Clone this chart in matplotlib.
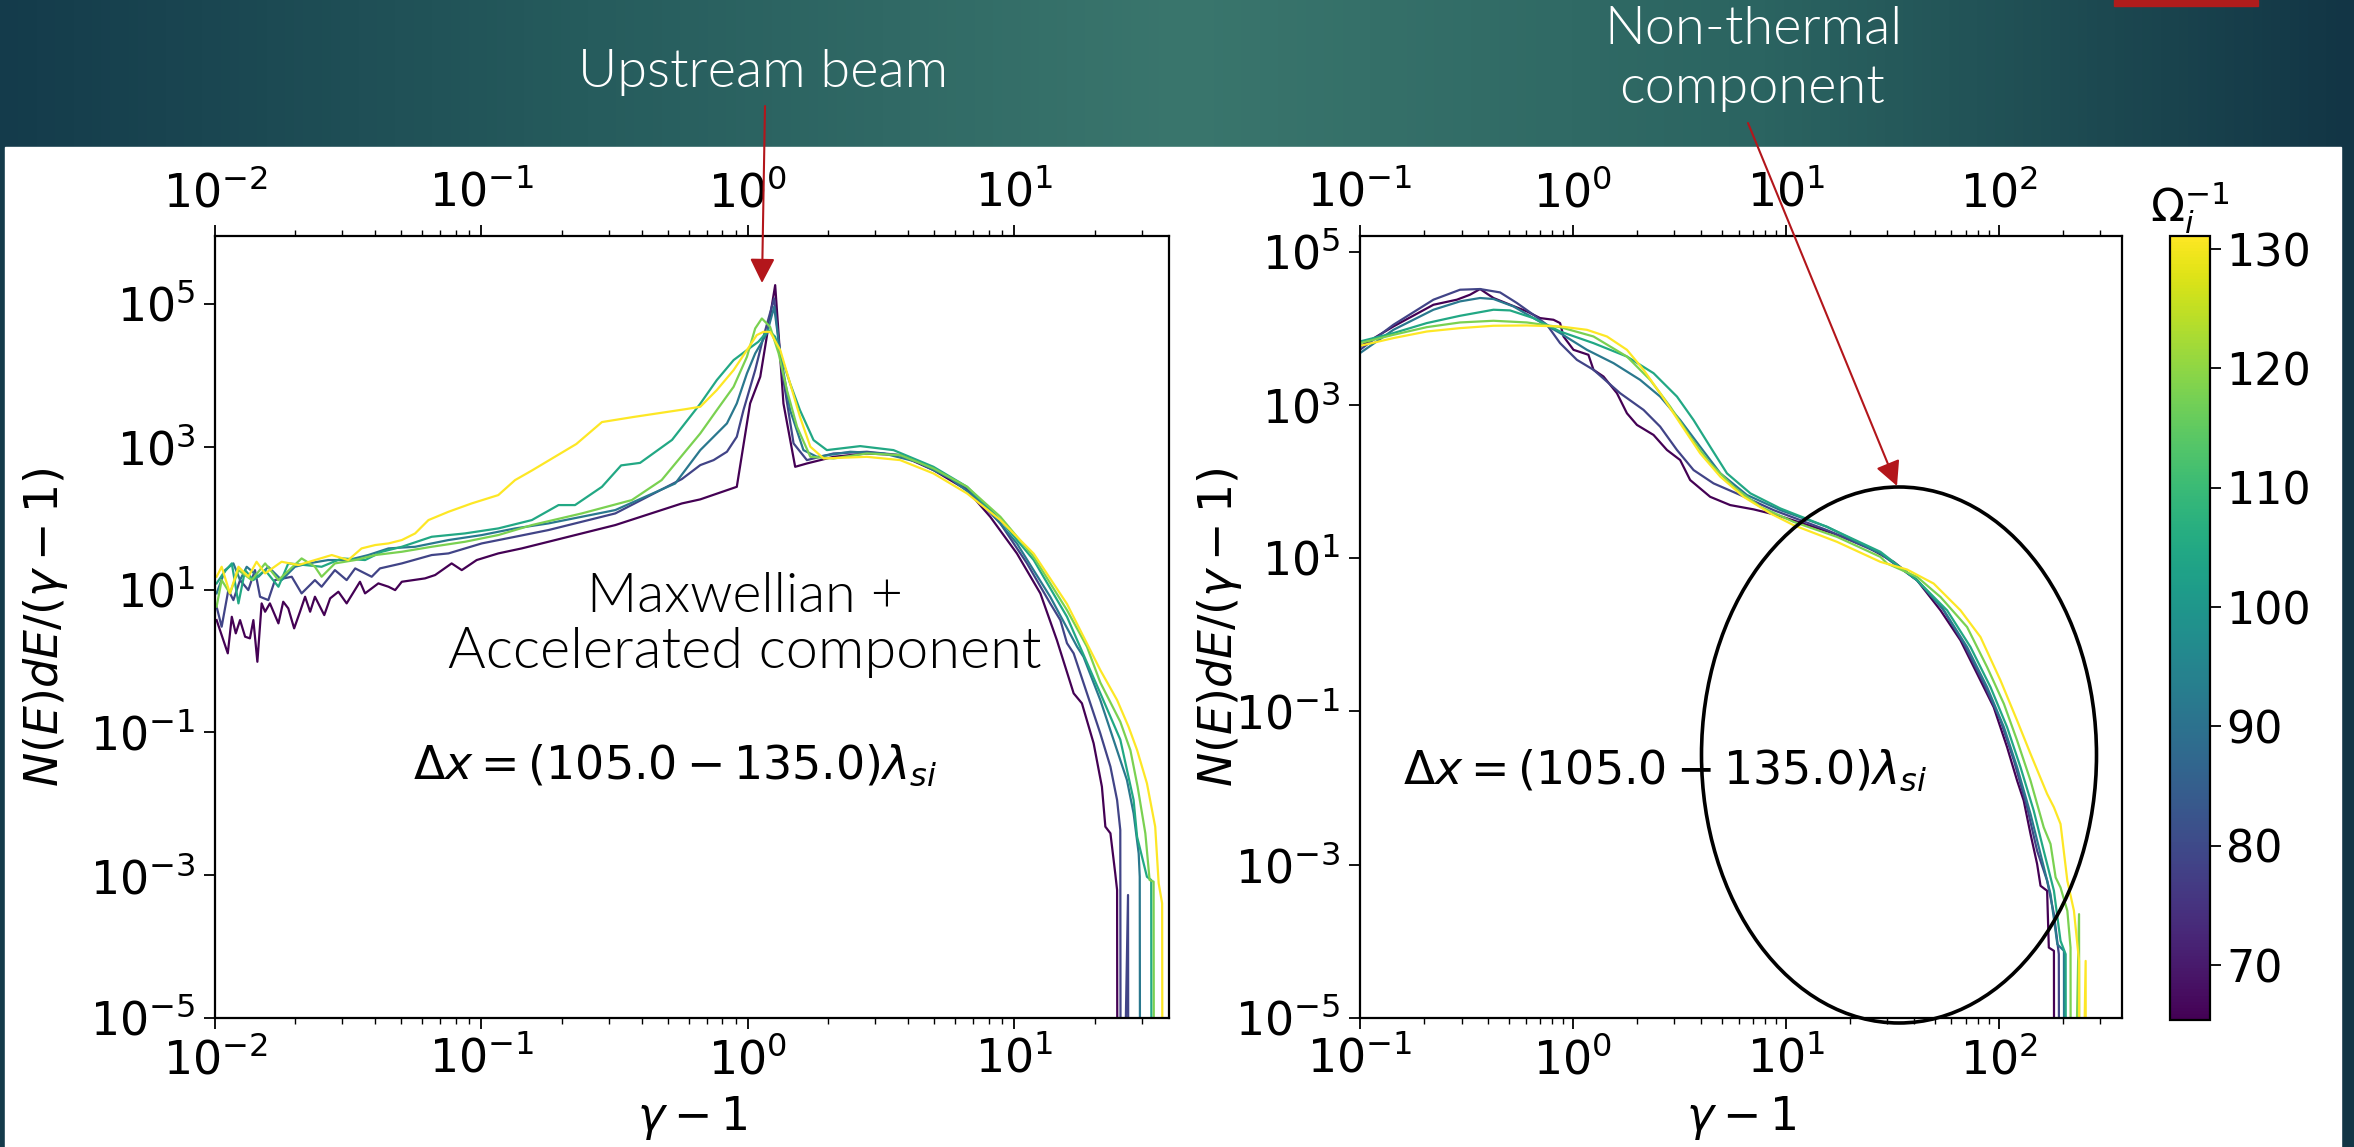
import numpy as np
import matplotlib
matplotlib.use("Agg")
import matplotlib.pyplot as plt
from matplotlib.colors import Normalize, LinearSegmentedColormap
from matplotlib.patches import Ellipse, Rectangle, FancyArrowPatch
import matplotlib.ticker as mticker

W, H = 2354, 1147

# snapshot times (1/Omega_i) of the six spectra -> colour
times = [65.5, 78.6, 91.7, 104.8, 117.9, 131.0]
cbar_range = (65.4, 131.1)
cbar_ticks = [70, 80, 90, 100, 110, 120, 130]
y_ticks = [1e-5, 1e-3, 1e-1, 1e1, 1e3, 1e5]

# spectra as (log10(gamma-1), log10(N dE/(gamma-1)))
# -9 marks where a spectrum drops to zero (off the bottom of the plot)
left_0 = [(-1.994, 0.574), (-1.952, 0.108), (-1.937, 0.62), (-1.922, 0.388), (-1.906, 0.574),
          (-1.887, 0.341), (-1.869, 0.318), (-1.856, 0.574), (-1.841, -0.01), (-1.825, 0.808),
          (-1.812, 0.691), (-1.794, 0.808), (-1.762, 0.528), (-1.744, 0.831), (-1.725, 0.738),
          (-1.703, 0.458), (-1.681, 0.691), (-1.662, 0.901), (-1.643, 0.691), (-1.625, 0.901),
          (-1.59, 0.644), (-1.568, 0.878), (-1.537, 0.971), (-1.506, 0.808), (-1.456, 1.111),
          (-1.437, 0.948), (-1.387, 1.088), (-1.349, 1.041), (-1.324, 0.994), (-1.299, 1.111),
          (-1.212, 1.158), (-1.174, 1.205), (-1.112, 1.368), (-1.074, 1.274), (-1.018, 1.415),
          (-0.937, 1.508), (-0.849, 1.578), (-0.749, 1.671), (-0.498, 1.905), (-0.248, 2.208),
          (-0.179, 2.265), (-0.042, 2.441), (0.008, 3.609), (0.046, 3.982), (0.102, 5.266),
          (0.133, 3.609), (0.177, 2.721), (0.221, 2.768), (0.321, 2.861), (0.446, 2.908),
          (0.571, 2.885), (0.696, 2.675), (0.822, 2.395), (0.909, 2.021), (1.009, 1.508),
          (1.097, 0.948), (1.159, 0.294), (1.222, -0.452), (1.253, -0.592), (1.297, -1.153),
          (1.328, -1.76), (1.341, -2.32), (1.36, -2.413), (1.378, -2.973), (1.385, -3.207),
          (1.387, -9)]
left_1 = [(-1.994, 0.761), (-1.975, 0.481), (-1.95, 0.994), (-1.931, 0.854), (-1.906, 1.134),
          (-1.875, 0.994), (-1.85, 1.274), (-1.831, 0.901), (-1.8, 0.854), (-1.775, 1.134),
          (-1.712, 1.181), (-1.675, 0.948), (-1.625, 1.134), (-1.6, 1.041), (-1.55, 1.274),
          (-1.506, 1.134), (-1.474, 1.298), (-1.412, 1.181), (-1.381, 1.298), (-1.299, 1.368),
          (-1.187, 1.485), (-1.124, 1.508), (-0.999, 1.648), (-0.874, 1.741), (-0.749, 1.835),
          (-0.498, 2.068), (-0.248, 2.55), (-0.179, 2.745), (-0.129, 2.815), (-0.079, 2.932),
          (-0.042, 3.142), (-0.017, 3.515), (0.027, 4.076), (0.058, 4.542), (0.098, 5.08),
          (0.127, 4.076), (0.171, 3.049), (0.221, 2.815), (0.321, 2.908), (0.446, 2.932),
          (0.571, 2.885), (0.696, 2.698), (0.822, 2.418), (0.947, 1.928), (1.047, 1.368),
          (1.134, 0.808), (1.172, 0.574), (1.197, 0.25), (1.222, 0.108), (1.272, -0.452),
          (1.322, -1.013), (1.36, -1.48), (1.385, -1.947), (1.397, -2.367), (1.399, -9),
          (1.426, -3.277), (1.428, -9)]
left_2 = [(-1.994, 0.948), (-1.962, 1.274), (-1.931, 1.368), (-1.906, 1.134), (-1.881, 1.321),
          (-1.837, 1.181), (-1.8, 1.321), (-1.75, 1.134), (-1.7, 1.321), (-1.65, 1.368),
          (-1.575, 1.415), (-1.5, 1.415), (-1.425, 1.485), (-1.349, 1.578), (-1.249, 1.601),
          (-1.124, 1.695), (-0.999, 1.765), (-0.874, 1.858), (-0.749, 1.928), (-0.498, 2.115),
          (-0.273, 2.488), (-0.179, 2.955), (-0.129, 3.142), (-0.079, 3.329), (-0.042, 3.609),
          (-0.004, 4.029), (0.027, 4.309), (0.071, 4.589), (0.098, 4.962), (0.121, 4.309),
          (0.158, 3.515), (0.208, 2.955), (0.259, 2.861), (0.384, 2.932), (0.509, 2.908),
          (0.634, 2.791), (0.759, 2.558), (0.884, 2.208), (1.009, 1.648), (1.134, 0.901),
          (1.235, 0.2), (1.259, 0.06), (1.322, -0.546), (1.372, -1.106), (1.422, -1.667),
          (1.447, -2.134), (1.466, -2.695), (1.47, -3.022), (1.472, -9)]
left_3 = [(-1.994, 1.088), (-1.969, 1.228), (-1.937, 1.368), (-1.912, 0.808), (-1.887, 1.274),
          (-1.856, 1.134), (-1.812, 1.274), (-1.762, 1.041), (-1.725, 1.368), (-1.662, 1.345),
          (-1.6, 1.321), (-1.524, 1.438), (-1.437, 1.415), (-1.374, 1.531), (-1.299, 1.601),
          (-1.187, 1.741), (-1.062, 1.788), (-0.937, 1.858), (-0.811, 1.975), (-0.711, 2.185),
          (-0.649, 2.185), (-0.548, 2.441), (-0.476, 2.741), (-0.405, 2.776), (-0.285, 3.098),
          (-0.18, 3.6), (-0.117, 3.936), (-0.054, 4.216), (-0.004, 4.356), (0.039, 4.473),
          (0.077, 4.636), (0.102, 4.542), (0.121, 4.309), (0.158, 3.889), (0.195, 3.515),
          (0.246, 3.095), (0.296, 2.955), (0.421, 3.011), (0.546, 2.955), (0.696, 2.721),
          (0.822, 2.441), (0.947, 1.975), (1.072, 1.415), (1.197, 0.62), (1.322, -0.45),
          (1.397, -1.1), (1.447, -1.947), (1.46, -2.461), (1.497, -3.022), (1.513, -3.067),
          (1.515, -9)]
left_4 = [(-1.994, 0.761), (-1.975, 1.134), (-1.944, 0.948), (-1.912, 1.274), (-1.862, 1.134),
          (-1.812, 1.368), (-1.762, 1.134), (-1.675, 1.438), (-1.625, 1.321), (-1.6, 1.181),
          (-1.55, 1.368), (-1.474, 1.415), (-1.399, 1.485), (-1.299, 1.531), (-1.187, 1.601),
          (-1.062, 1.671), (-0.937, 1.765), (-0.811, 1.905), (-0.624, 2.068), (-0.436, 2.255),
          (-0.324, 2.535), (-0.179, 3.189), (-0.117, 3.515), (-0.054, 3.842), (-0.004, 4.262),
          (0.027, 4.659), (0.052, 4.799), (0.083, 4.682), (0.115, 4.309), (0.146, 3.796),
          (0.184, 3.282), (0.234, 2.861), (0.321, 2.838), (0.446, 2.908), (0.571, 2.885),
          (0.696, 2.698), (0.822, 2.441), (0.947, 2.021), (1.072, 1.461), (1.197, 0.714),
          (1.272, 0.2), (1.322, -0.3), (1.397, -0.85), (1.435, -1.25), (1.462, -1.76),
          (1.491, -2.413), (1.507, -3.067), (1.522, -3.09), (1.524, -9)]
left_5 = [(-1.994, 1.181), (-1.975, 1.321), (-1.944, 0.948), (-1.912, 1.321), (-1.875, 1.181),
          (-1.844, 1.391), (-1.812, 1.228), (-1.75, 1.391), (-1.687, 1.345), (-1.625, 1.415),
          (-1.562, 1.485), (-1.5, 1.415), (-1.45, 1.578), (-1.399, 1.625), (-1.349, 1.648),
          (-1.299, 1.695), (-1.249, 1.788), (-1.199, 1.975), (-1.124, 2.091), (-1.037, 2.208),
          (-0.937, 2.325), (-0.874, 2.535), (-0.811, 2.669), (-0.644, 3.041), (-0.548, 3.348),
          (-0.428, 3.42), (-0.237, 3.527), (-0.179, 3.562), (-0.117, 3.796), (-0.054, 4.076),
          (-0.004, 4.356), (0.033, 4.566), (0.058, 4.612), (0.083, 4.612), (0.121, 4.356),
          (0.158, 3.889), (0.195, 3.422), (0.234, 3.002), (0.284, 2.838), (0.446, 2.861),
          (0.571, 2.815), (0.696, 2.628), (0.822, 2.348), (0.947, 1.975), (1.072, 1.505),
          (1.197, 0.8), (1.297, 0.06), (1.322, -0.126), (1.385, -0.546), (1.428, -0.92),
          (1.46, -1.246), (1.497, -1.713), (1.528, -2.32), (1.541, -3.113), (1.554, -3.393),
          (1.556, -9)]

right_0 = [(-1.0, 3.762), (-0.843, 4.024), (-0.655, 4.307), (-0.545, 4.373), (-0.483, 4.438),
           (-0.436, 4.512), (-0.373, 4.395), (-0.295, 4.307), (-0.216, 4.22), (-0.154, 4.133),
           (-0.091, 4.111), (-0.06, 4.068), (-0.044, 3.893), (0.003, 3.719), (0.073, 3.654),
           (0.097, 3.458), (0.144, 3.37), (0.207, 3.153), (0.254, 2.891), (0.301, 2.739),
           (0.379, 2.608), (0.442, 2.412), (0.504, 2.281), (0.551, 2.02), (0.645, 1.801),
           (0.739, 1.693), (0.849, 1.637), (0.959, 1.562), (1.225, 1.323), (1.382, 1.148),
           (1.507, 0.952), (1.617, 0.712), (1.727, 0.32), (1.821, -0.072), (1.899, -0.507),
           (1.977, -0.944), (2.04, -1.467), (2.087, -1.902), (2.118, -2.163), (2.15, -2.599),
           (2.181, -2.99), (2.197, -3.275), (2.228, -3.34), (2.236, -4.081), (2.26, -4.124),
           (2.262, -9)]
right_1 = [(-1.0, 3.719), (-0.843, 4.046), (-0.655, 4.373), (-0.53, 4.503), (-0.436, 4.512),
           (-0.342, 4.468), (-0.263, 4.33), (-0.185, 4.176), (-0.122, 4.046), (-0.06, 3.806),
           (0.019, 3.588), (0.097, 3.458), (0.222, 3.153), (0.332, 2.935), (0.41, 2.717),
           (0.489, 2.412), (0.567, 2.15), (0.661, 1.976), (0.787, 1.824), (0.943, 1.627),
           (1.194, 1.366), (1.445, 1.061), (1.617, 0.712), (1.727, 0.386), (1.836, -0.115),
           (1.931, -0.638), (2.009, -1.118), (2.072, -1.641), (2.134, -2.251), (2.181, -2.817),
           (2.228, -3.209), (2.26, -3.645), (2.283, -4.167), (2.285, -9)]
right_2 = [(-1.0, 3.676), (-0.843, 3.98), (-0.655, 4.242), (-0.53, 4.351), (-0.436, 4.395),
           (-0.373, 4.382), (-0.279, 4.285), (-0.185, 4.133), (-0.06, 3.937), (0.066, 3.719),
           (0.191, 3.545), (0.316, 3.327), (0.41, 3.109), (0.504, 2.803), (0.598, 2.455),
           (0.693, 2.107), (0.818, 1.824), (0.975, 1.627), (1.194, 1.409), (1.445, 1.061),
           (1.617, 0.712), (1.743, 0.32), (1.852, -0.159), (1.946, -0.682), (2.025, -1.205),
           (2.087, -1.728), (2.15, -2.337), (2.197, -2.86), (2.244, -3.383), (2.276, -4.037),
           (2.307, -4.124), (2.309, -9)]
right_3 = [(-1.0, 3.828), (-0.843, 3.937), (-0.686, 4.068), (-0.53, 4.163), (-0.373, 4.242),
           (-0.295, 4.233), (-0.185, 4.133), (-0.06, 3.958), (0.097, 3.806), (0.254, 3.631),
           (0.379, 3.414), (0.489, 3.109), (0.567, 2.803), (0.645, 2.455), (0.724, 2.107),
           (0.834, 1.846), (0.975, 1.649), (1.194, 1.409), (1.445, 1.083), (1.617, 0.712),
           (1.758, 0.32), (1.868, -0.159), (1.962, -0.682), (2.04, -1.205), (2.103, -1.728),
           (2.165, -2.294), (2.212, -2.817), (2.26, -3.34), (2.291, -3.993), (2.315, -4.167),
           (2.317, -9)]
right_4 = [(-1.0, 3.806), (-0.843, 3.915), (-0.686, 4.015), (-0.53, 4.076), (-0.373, 4.098),
           (-0.216, 4.076), (-0.06, 4.015), (0.097, 3.893), (0.254, 3.631), (0.363, 3.327),
           (0.457, 2.978), (0.551, 2.586), (0.645, 2.238), (0.755, 1.932), (0.881, 1.671),
           (1.037, 1.474), (1.241, 1.278), (1.445, 1.017), (1.476, 0.931), (1.617, 0.756),
           (1.727, 0.494), (1.852, 0.102), (1.946, -0.421), (2.025, -0.901), (2.087, -1.379),
           (2.15, -1.902), (2.212, -2.512), (2.244, -2.729), (2.268, -3.166), (2.291, -3.297),
           (2.323, -3.601), (2.338, -4.081), (2.34, -9), (2.378, -3.645), (2.38, -9)]
right_5 = [(-1.0, 3.771), (-0.843, 3.872), (-0.686, 3.958), (-0.53, 4.002), (-0.373, 4.033),
           (-0.216, 4.037), (-0.06, 4.024), (0.066, 3.98), (0.16, 3.893), (0.254, 3.719),
           (0.332, 3.458), (0.41, 3.153), (0.504, 2.761), (0.598, 2.369), (0.693, 2.063),
           (0.802, 1.801), (0.928, 1.584), (1.037, 1.431), (1.241, 1.213), (1.445, 0.952),
           (1.57, 0.852), (1.695, 0.669), (1.821, 0.32), (1.915, -0.029), (2.009, -0.595),
           (2.087, -1.118), (2.15, -1.553), (2.228, -2.076), (2.26, -2.251), (2.291, -2.468),
           (2.323, -3.209), (2.354, -3.601), (2.378, -4.255), (2.38, -9), (2.409, -4.255),
           (2.411, -9)]

left_curves = [left_0, left_1, left_2, left_3, left_4, left_5]
right_curves = [right_0, right_1, right_2, right_3, right_4, right_5]


def box(x0, y0, x1, y1):
    # pixel box (top-left origin) -> figure fraction rect
    return [x0 / W, 1 - y1 / H, (x1 - x0) / W, (y1 - y0) / H]


def fx(x):
    return x / W


def fy(y):
    return 1 - y / H


plt.rcParams['axes.linewidth'] = 1.6
plt.rcParams['mathtext.fontset'] = 'dejavusans'

fig = plt.figure(figsize=(W / 100, H / 100), dpi=100)

# slide background
bg = fig.add_axes([0, 0, 1, 1], zorder=-10)
slide = LinearSegmentedColormap.from_list(
    'slide', ['#143b4b', '#265c5d', '#3a766d', '#2b6461', '#123545'])
bg.imshow(np.linspace(0, 1, 512)[None, :], cmap=slide, aspect='auto', extent=[0, 1, 0, 1])
bg.add_patch(Rectangle((5 / W, 0), 2336 / W, 1 - 147 / H, color='white'))
bg.add_patch(Rectangle((2114 / W, 1 - 6 / H), 144 / W, 6 / H, color='#b01c1c'))
bg.set_xlim(0, 1)
bg.set_ylim(0, 1)
bg.axis('off')

cmap = plt.get_cmap('viridis')
norm = Normalize(*cbar_range)

axL = fig.add_axes(box(215, 236, 1169, 1018))
axR = fig.add_axes(box(1360, 236, 2122, 1018))

for ax, curves in ((axL, left_curves), (axR, right_curves)):
    for t, pts in zip(times, curves):
        lx, ly = np.array(pts).T
        ax.plot(10 ** lx, 10 ** ly, color=cmap(norm(t)), lw=1.6)
    ax.set_xscale('log')
    ax.set_yscale('log')
    ax.set_yticks(y_ticks)
    ax.yaxis.set_minor_locator(mticker.NullLocator())
    ax.tick_params(which='both', top=True, labeltop=True, labelsize=33, direction='out')
    ax.tick_params(which='major', length=8, width=1.3, pad=6)
    ax.tick_params(which='minor', length=4.5, width=1.0)
    ax.set_xlabel(r'$\gamma - 1$', fontsize=33)
    ax.set_ylabel(r'$N(E)dE/(\gamma - 1)$', fontsize=33)
    ax.xaxis.label.set_va('center')
    ax.yaxis.label.set_va('center')

axL.set_xlim(1e-2, 38)
axL.set_ylim(1e-5, 9e5)
axR.set_xlim(1e-1, 380)
axR.set_ylim(1e-5, 1.6e5)

axL.xaxis.set_label_coords(0.5, -0.128)
axR.xaxis.set_label_coords(0.5, -0.128)
axL.yaxis.set_label_coords(-0.178, 0.5)
axR.yaxis.set_label_coords(-0.185, 0.5)

dx_label = r'$\Delta x = (105.0 - 135.0)\lambda_{si}$'
fig.text(fx(675), fy(766), dx_label, fontsize=33, ha='center', va='center')
fig.text(fx(1665), fy(771), dx_label, fontsize=33, ha='center', va='center')

gothic = dict(family=['Lato', 'DejaVu Sans'], weight=300, ha='center', va='center')
fig.text(fx(745), fy(597), 'Maxwellian +', fontsize=40, color='black', **gothic)
fig.text(fx(745), fy(653), 'Accelerated component', fontsize=41.5, color='black', **gothic)
fig.text(fx(763), fy(72), 'Upstream beam', fontsize=39, color='white', **gothic)
fig.text(fx(1754), fy(30), 'Non-thermal', fontsize=39, color='white', **gothic)
fig.text(fx(1752), fy(89), 'component', fontsize=39, color='white', **gothic)

arrow_kw = dict(transform=fig.transFigure, arrowstyle='-|>,head_length=0.75,head_width=0.38',
                mutation_scale=20, color='#b3161b', lw=1.5, shrinkA=0, shrinkB=0, zorder=20)
fig.add_artist(FancyArrowPatch((fx(765), fy(106)), (fx(762), fy(283)), **arrow_kw))
fig.add_artist(FancyArrowPatch((fx(1748), fy(123)), (fx(1897), fy(486)), **arrow_kw))

fig.add_artist(Ellipse((fx(1899), fy(755)), 395 / W, 536 / H, transform=fig.transFigure,
                       fill=False, ec='black', lw=2.6, zorder=20))

cax = fig.add_axes(box(2170, 236, 2210, 1020))
sm = plt.cm.ScalarMappable(norm=norm, cmap=cmap)
cb = fig.colorbar(sm, cax=cax, ticks=cbar_ticks)
cb.ax.tick_params(labelsize=32, length=8, width=1.3)
cb.outline.set_linewidth(1.6)
cax.set_title(r'$\Omega_i^{-1}$', fontsize=32, pad=4)

fig.savefig('out.png', dpi=100, facecolor='#143b4b')
